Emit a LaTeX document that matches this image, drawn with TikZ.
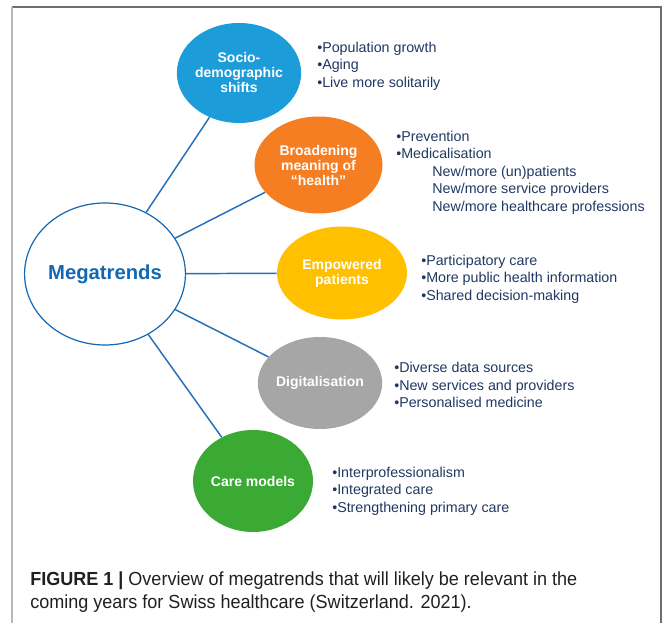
\documentclass[tikz,border=0pt]{standalone}
\usepackage{fontspec}
\setmainfont{Liberation Sans}
\newfontfamily\capfont[FakeStretch=0.952]{Liberation Sans}
\usetikzlibrary{shapes.geometric}
\definecolor{cblue}{RGB}{28,156,216}
\definecolor{corange}{RGB}{246,126,34}
\definecolor{cyellow}{RGB}{255,192,0}
\definecolor{cgray}{RGB}{166,166,166}
\definecolor{cgreen}{RGB}{58,170,53}
\definecolor{megablue}{RGB}{20,104,178}
\definecolor{linkblue}{RGB}{34,112,182}
\definecolor{navy}{RGB}{31,56,100}
\definecolor{capblack}{RGB}{35,31,32}
\definecolor{framedark}{RGB}{110,110,110}
\definecolor{framelight}{RGB}{185,185,185}
\tikzset{
  trend/.style={ellipse, inner sep=0pt, text=white, align=center,
    font=\bfseries\fontsize{10.5}{11.25}\selectfont},
  bullets/.style={text=navy, align=left, inner sep=0pt, anchor=west,
    font=\fontsize{10.7}{13.1}\selectfont},
  link/.style={draw=linkblue, line width=1.1pt},
  capt/.style={text=capblack, align=left, inner sep=0pt, anchor=west,
    font=\capfont\fontsize{14.2}{17.25}\selectfont}
}
\begin{document}
\begin{tikzpicture}[x=0.75pt,y=-0.75pt]
\useasboundingbox (0,0) rectangle (663,623);
% frame
\draw[framedark, line width=1.5pt] (12,7) -- (661,7) -- (661,623);
\draw[framelight, line width=1.5pt] (12,7) -- (12,623);

% central node
\node[ellipse, draw=megablue, line width=0.9pt, fill=white, inner sep=0pt,
  minimum width=113.25pt, minimum height=106.5pt, text=megablue,
  font=\bfseries\fontsize{15.2}{18}\selectfont] (mega) at (105,274) {Megatrends};

% trend nodes
\node[trend, fill=cblue, minimum width=93pt, minimum height=75pt] (socio) at (239,73) {Socio-\\demographic\\shifts};
\node[trend, fill=corange, minimum width=96pt, minimum height=72.75pt] (health) at (318.5,165) {Broadening\\meaning of\\``health''};
\node[trend, fill=cyellow, minimum width=97.5pt, minimum height=69.75pt] (patients) at (342,273) {Empowered\\patients};
\node[trend, fill=cgray, minimum width=92.25pt, minimum height=69pt] (digital) at (320,383) {Digitalisation};
\node[trend, fill=cgreen, minimum width=90pt, minimum height=76.5pt] (care) at (253,481) {Care models};

% connectors
\draw[link] (mega) -- (socio);
\draw[link] (mega) -- (health);
\draw[link] (mega) -- (patients);
\draw[link] (mega) -- (digital);
\draw[link] (mega) -- (care);

% bullet texts
\node[bullets] (bsocio) at (317,66) {•Population growth\\•Aging\\•Live more solitarily};
\node[bullets] (bhealth) at (396,172.5) {•Prevention\\•Medicalisation\\
  \hspace*{27pt}New/more (un)patients\\
  \hspace*{27pt}New/more service providers\\
  \hspace*{27pt}New/more healthcare professions};
\node[bullets] (bpatients) at (421,279) {•Participatory care\\•More public health information\\•Shared decision-making};
\node[bullets] (bdigital) at (394,385) {•Diverse data sources\\•New services and providers\\•Personalised medicine};
\node[bullets] (bcare) at (332,491) {•Interprofessionalism\\•Integrated care\\•Strengthening primary care};

% caption
\node[capt] (caption) at (30,592.5) {\textbf{FIGURE 1 |} Overview of megatrends that will likely be relevant in the\\coming years for Swiss healthcare (Switzerland. 2021).};
\end{tikzpicture}
\end{document}
